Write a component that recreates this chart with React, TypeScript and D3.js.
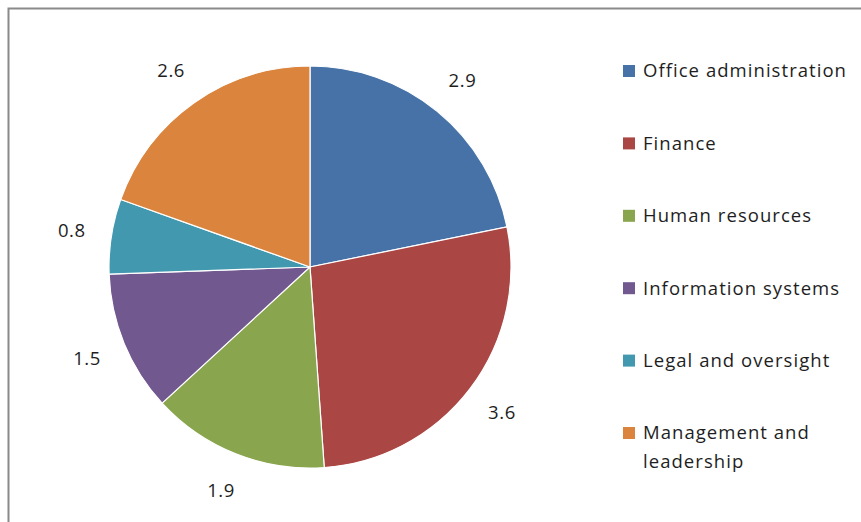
import React, { useEffect, useRef } from 'react';
import * as d3 from 'd3';

const categories = [
  'Office administration',
  'Finance',
  'Human resources',
  'Information systems',
  'Legal and oversight',
  'Management and leadership',
];
const values = [2.9, 3.6, 1.9, 1.5, 0.8, 2.6];
const colors = ['#4672A8', '#AA4643', '#89A54E', '#71588F', '#4198AF', '#DB843D'];

const App = () => {
  const ref = useRef<SVGSVGElement>(null);

  useEffect(() => {
    const svg = d3.select(ref.current);
    svg.selectAll('*').remove();

    const width = 861;
    const height = 522;
    const cx = 310;
    const cy = 267;
    const radius = 201;
    const font = '"Open Sans", "DejaVu Sans", sans-serif';

    // chart frame
    svg.append('rect')
      .attr('x', 8.5)
      .attr('y', 8.5)
      .attr('width', width + 10)
      .attr('height', height + 10)
      .attr('fill', 'white')
      .attr('stroke', '#8a8a8a')
      .attr('stroke-width', 2);

    const pie = d3.pie<number>().sort(null).value(d => d);
    const arcs = pie(values);
    const arc = d3.arc<d3.PieArcDatum<number>>().innerRadius(0).outerRadius(radius);
    const labelArc = d3.arc<d3.PieArcDatum<number>>().innerRadius(241).outerRadius(241);

    const g = svg.append('g').attr('transform', `translate(${cx}, ${cy})`);

    g.selectAll('path')
      .data(arcs)
      .enter()
      .append('path')
      .attr('d', arc)
      .attr('fill', (d, i) => colors[i])
      .attr('stroke', 'white')
      .attr('stroke-width', 1.2);

    g.selectAll('text')
      .data(arcs)
      .enter()
      .append('text')
      .attr('transform', d => `translate(${labelArc.centroid(d)})`)
      .attr('text-anchor', 'middle')
      .attr('dy', '0.35em')
      .attr('font-family', font)
      .attr('font-size', 18.5)
      .attr('letter-spacing', 0.6)
      .attr('fill', '#1e1e1e')
      .text(d => d.data.toFixed(1));

    // legend
    const legendY = d3.scaleLinear().domain([0, categories.length - 1]).range([71, 433]);
    const legend = svg.append('g');
    categories.forEach((c, i) => {
      const y = legendY(i);
      legend.append('rect')
        .attr('x', 623)
        .attr('y', y - 6)
        .attr('width', 12)
        .attr('height', 12)
        .attr('fill', colors[i]);
      const words = c === 'Management and leadership' ? ['Management and', 'leadership'] : [c];
      const t = legend.append('text')
        .attr('x', 643)
        .attr('y', y)
        .attr('font-family', font)
        .attr('font-size', 18.5)
        .attr('letter-spacing', 1.05)
        .attr('fill', '#1e1e1e');
      words.forEach((w, j) => {
        t.append('tspan').attr('x', 643).attr('dy', j === 0 ? '0.35em' : 29).text(w);
      });
    });
  }, []);

  return (
    <div>
      <style>{`body { margin: 0; }`}</style>
      <svg ref={ref} width={861} height={522} style={{ display: 'block' }} />
    </div>
  );
};

export default App;
